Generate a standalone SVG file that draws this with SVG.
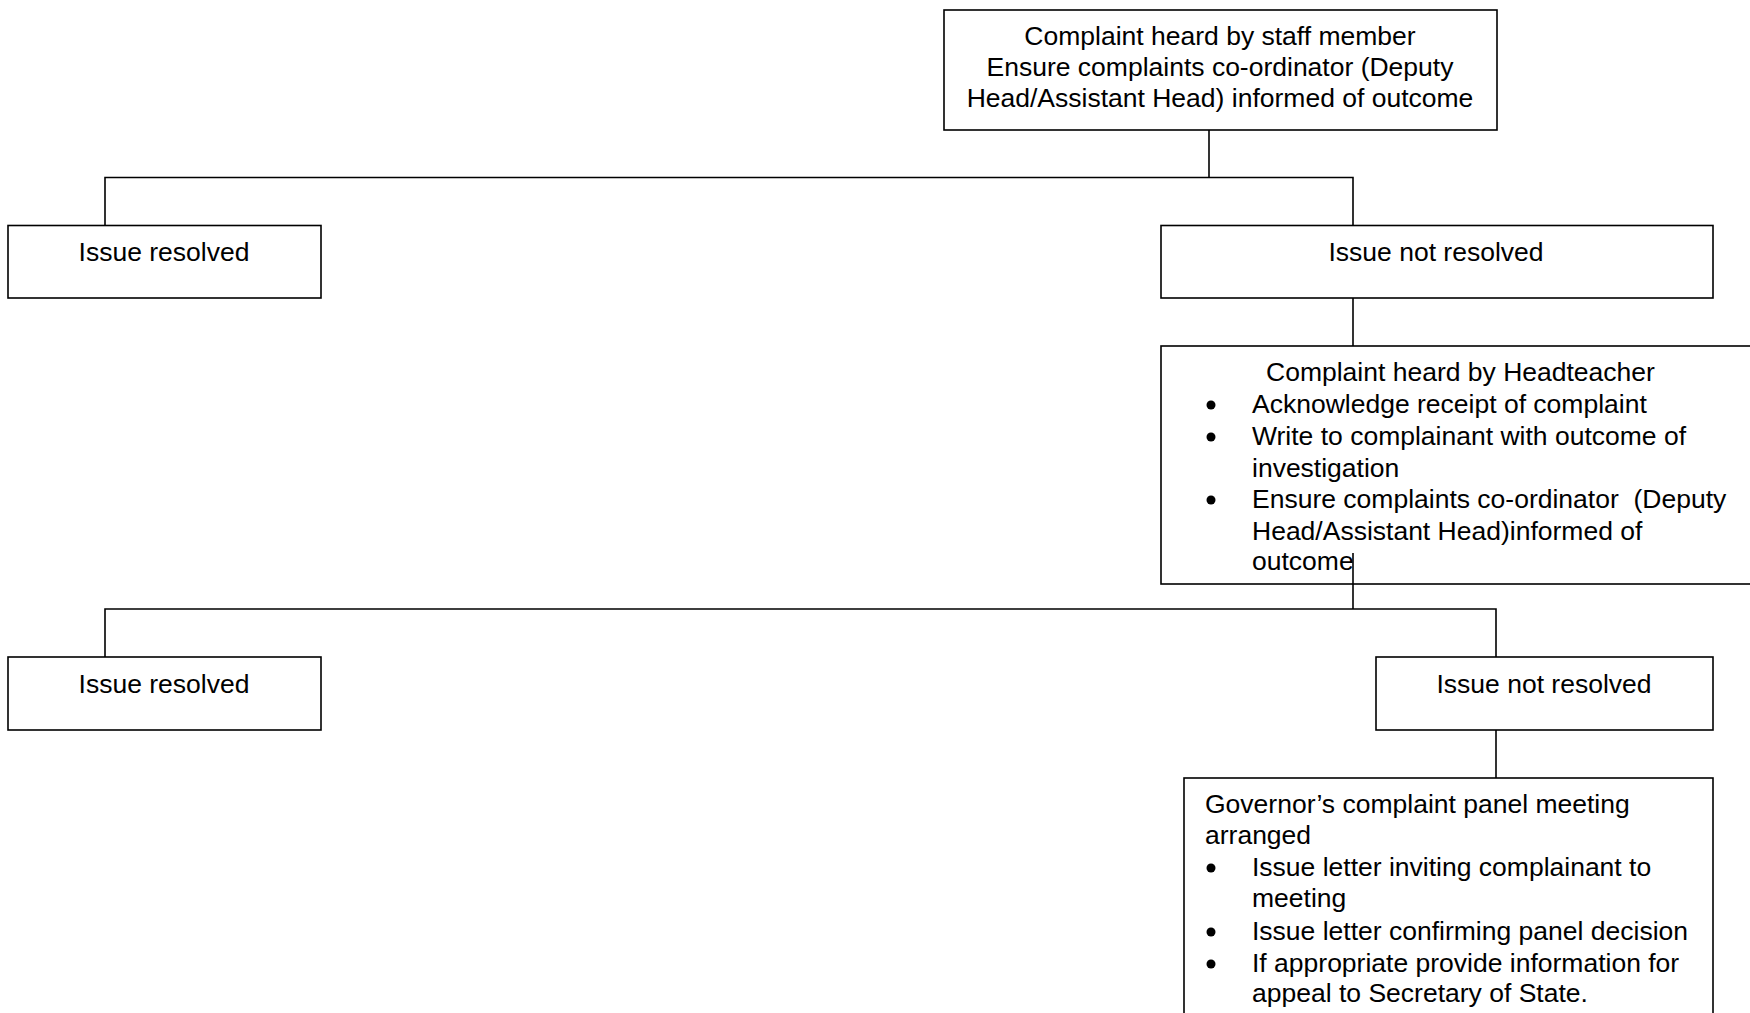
<svg xmlns="http://www.w3.org/2000/svg" width="1750" height="1013" viewBox="0 0 1750 1013">
<style>
  rect.box { fill: #ffffff; stroke: #000000; stroke-width: 1.6; }
  .conn line, .conn path { stroke: #000000; stroke-width: 1.6; fill: none; }
  text { font-family: "Liberation Sans", Arial, sans-serif; font-size: 26.5px; fill: #000000; }
  .c { text-anchor: middle; }
  circle.bullet { fill: #000000; }
</style>
<defs>
  <circle id="dot" class="bullet" r="4.5" cx="0" cy="0"/>
</defs>
<rect x="0" y="0" width="1750" height="1013" fill="#ffffff"/>
<g id="n-staff">
  <rect class="box" x="944" y="10" width="553" height="120"/>
  <text class="c" x="1220" y="45">Complaint heard by staff member</text>
  <text class="c" x="1220" y="75.5">Ensure complaints co-ordinator (Deputy</text>
  <text class="c" x="1220" y="106.5">Head/Assistant Head) informed of outcome</text>
</g>
<g id="n-resolved1">
  <rect class="box" x="8" y="225.5" width="313" height="72.5"/>
  <text class="c" x="164" y="261">Issue resolved</text>
</g>
<g id="n-notresolved1">
  <rect class="box" x="1161" y="225.5" width="552" height="72.5"/>
  <text class="c" x="1436" y="261">Issue not resolved</text>
</g>
<g id="n-head">
  <rect class="box" x="1161" y="346" width="600" height="238"/>
  <text x="1266" y="381">Complaint heard by Headteacher</text>
  <use href="#dot" x="1211" y="405"/>
  <text x="1252" y="413">Acknowledge receipt of complaint</text>
  <use href="#dot" x="1211" y="437"/>
  <text x="1252" y="445">Write to complainant with outcome of</text>
  <text x="1252" y="476.5">investigation</text>
  <use href="#dot" x="1211" y="500"/>
  <text x="1252" y="508" xml:space="preserve">Ensure complaints co-ordinator  (Deputy</text>
  <text x="1252" y="539.5">Head/Assistant Head)informed of</text>
  <text x="1252" y="570">outcome</text>
</g>
<g id="n-resolved2">
  <rect class="box" x="8" y="657" width="313" height="73"/>
  <text class="c" x="164" y="693">Issue resolved</text>
</g>
<g id="n-notresolved2">
  <rect class="box" x="1376" y="657" width="337" height="73"/>
  <text class="c" x="1544" y="693">Issue not resolved</text>
</g>
<g id="n-governor">
  <rect class="box" x="1184" y="778" width="529" height="260"/>
  <text x="1205" y="812.5">Governor’s complaint panel meeting</text>
  <text x="1205" y="844">arranged</text>
  <use href="#dot" x="1211" y="868"/>
  <text x="1252" y="876">Issue letter inviting complainant to</text>
  <text x="1252" y="907">meeting</text>
  <use href="#dot" x="1211" y="932"/>
  <text x="1252" y="940">Issue letter confirming panel decision</text>
  <use href="#dot" x="1211" y="964"/>
  <text x="1252" y="972">If appropriate provide information for</text>
  <text x="1252" y="1002">appeal to Secretary of State.</text>
</g>
<g id="connectors" class="conn">
  <line x1="1209" y1="130" x2="1209" y2="177.5"/>
  <path d="M105 225.5 V177.5 H1353 V225.5"/>
  <line x1="1353" y1="298" x2="1353" y2="346"/>
  <line x1="1353" y1="553" x2="1353" y2="609"/>
  <path d="M105 657 V609 H1496 V657"/>
  <line x1="1496" y1="730" x2="1496" y2="778"/>
</g>
</svg>
